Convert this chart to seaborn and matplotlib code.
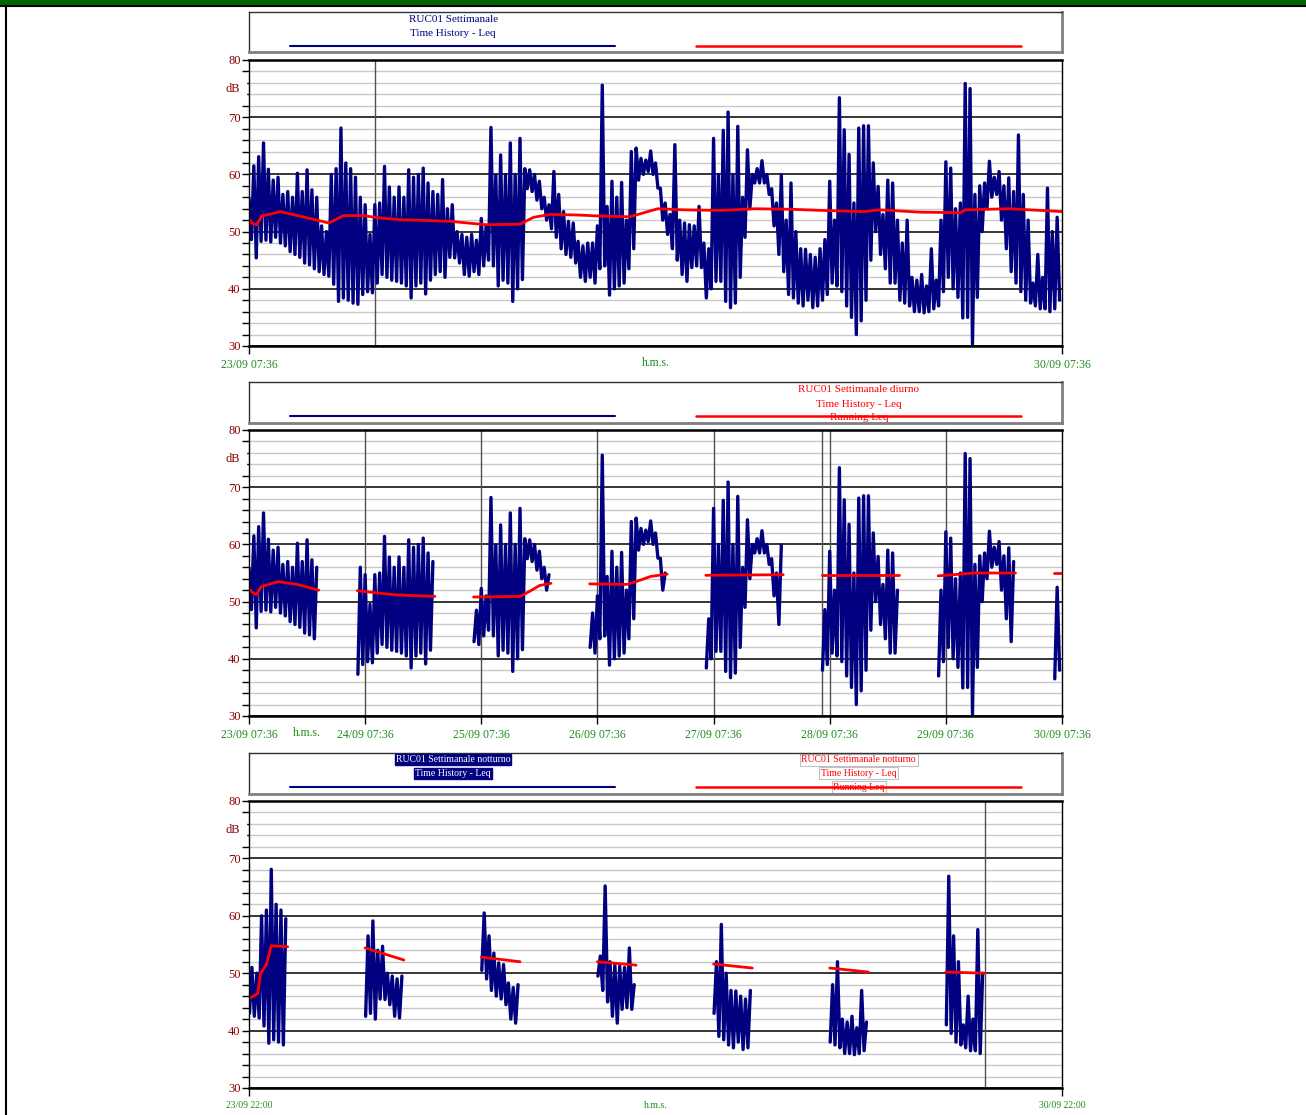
import numpy as np
import pandas as pd
import seaborn as sns
import matplotlib.pyplot as plt
from matplotlib.patches import Rectangle
from matplotlib.lines import Line2D
from matplotlib.ticker import MultipleLocator

# Leq: massimo e minimo per ogni ora (ore dalle 23/09 07:36)
leq_max = [55.9, 61.5, 63.1, 65.5, 60.9, 59.0, 59.5, 56.5, 57.0, 56.0,
           60.2, 57.0, 60.8, 57.3, 56.0, 51.0, 50.0, 60.0, 61.0, 68.1,
           62.0, 61.0, 59.5, 56.0, 54.7, 49.5, 54.7, 55.0, 61.4, 57.8,
           56.0, 57.8, 56.0, 60.8, 59.5, 60.0, 61.1, 58.5, 57.0, 56.5,
           59.1, 54.0, 54.7, 50.0, 49.5, 49.0, 49.5, 48.5, 52.3, 51.0,
           68.2, 59.9, 63.4, 60.0, 65.5, 60.0, 66.3, 61.0, 60.8, 60.0,
           58.8, 56.0, 54.7, 60.5, 56.5, 53.5, 51.8, 51.5, 48.3, 47.5,
           48.0, 48.0, 51.0, 75.6, 54.4, 58.8, 56.0, 58.6, 52.0, 64.0,
           64.6, 62.8, 62.5, 64.1, 62.0, 57.6, 55.0, 53.0, 65.2, 52.0,
           51.5, 51.2, 51.0, 54.4, 48.0, 47.0, 66.3, 60.0, 67.7, 70.9,
           60.0, 68.4, 56.0, 64.3, 60.0, 61.0, 62.4, 60.0, 57.5, 55.0,
           59.9, 52.0, 58.5, 50.0, 47.0, 46.9, 46.0, 45.5, 47.0, 48.6,
           58.8, 52.0, 73.4, 67.8, 63.5, 55.0, 68.1, 68.5, 68.5, 62.0,
           57.9, 53.0, 59.0, 58.5, 52.0, 48.0, 52.0, 42.0, 41.5, 42.5,
           40.5, 47.0, 41.5, 52.0, 62.2, 61.1, 54.0, 55.0, 75.9, 75.0,
           56.5, 58.0, 58.5, 62.3, 59.5, 60.5, 58.0, 59.4, 57.0, 66.9,
           56.5, 52.0, 41.0, 46.0, 42.0, 57.6, 50.0, 52.5]
leq_min = [48.6, 45.4, 48.3, 48.5, 48.2, 49.0, 48.0, 47.5, 46.5, 46.0,
           45.5, 44.5, 44.2, 43.5, 43.0, 42.5, 42.2, 40.8, 37.8, 38.4,
           38.0, 37.5, 37.3, 39.0, 39.5, 39.3, 41.0, 42.5, 42.0, 41.5,
           41.3, 41.0, 40.5, 38.4, 40.5, 41.0, 39.1, 41.5, 42.5, 43.0,
           42.0, 45.5, 45.4, 44.5, 42.5, 42.2, 43.0, 42.5, 44.0, 45.0,
           44.0, 40.5, 41.5, 41.0, 37.8, 40.0, 41.6, 57.5, 57.0, 55.5,
           54.0, 52.0, 50.5, 49.0, 47.0, 46.0, 45.5, 44.5, 42.0, 41.3,
           42.0, 41.0, 43.5, 44.0, 38.9, 40.0, 40.5, 41.0, 43.5, 47.0,
           59.0, 60.0, 60.5, 60.0, 57.6, 52.0, 49.5, 47.0, 45.0, 42.5,
           41.3, 43.7, 44.0, 43.7, 38.4, 40.0, 41.3, 41.3, 37.8, 36.7,
           37.5, 42.0, 49.0, 54.0, 58.5, 58.5, 58.5, 56.5, 51.0, 46.0,
           43.0, 39.0, 38.4, 37.5, 37.0, 38.0, 36.7, 37.0, 38.0, 39.0,
           41.0, 40.5, 39.5, 37.0, 35.0, 32.0, 34.4, 38.0, 45.0, 50.0,
           46.0, 43.5, 41.0, 41.0, 38.0, 37.5, 37.0, 36.0, 36.0, 35.8,
           36.0, 36.5, 37.0, 39.5, 42.0, 40.0, 38.5, 34.9, 35.0, 30.3,
           38.5, 50.0, 54.0, 56.0, 56.5, 52.0, 47.0, 43.0, 41.0, 39.5,
           38.0, 37.5, 37.0, 36.5, 36.5, 36.0, 36.5, 38.0]

# Running Leq settimanale
run_t = [0, 0.5, 1.6, 2.6, 6.5, 16.5, 19.5, 23.5, 27, 31, 41.5, 49, 56, 58.8, 62.2,
         68, 73, 78.7, 84.5, 90, 97.7, 104.6, 112, 118.4, 127, 130.4, 138.7, 147, 148, 157, 168]
run_leq = [52.4, 51.5, 51.2, 52.7, 53.5, 51.5, 52.8, 52.8, 52.4, 52.1, 51.8, 51.2, 51.3, 52.5, 53.0,
           52.9, 52.7, 52.6, 54.0, 53.8, 53.7, 54.0, 53.9, 53.7, 53.5, 53.8, 53.4, 53.3, 53.8, 54.0, 53.5]

# Running Leq diurno (per giorno)
day_seg = [0]*7 + [1]*3 + [2]*5 + [3]*5 + [4]*2 + [5]*2 + [6]*3 + [7]*2
day_t = [0, 0.4, 1.5, 2.5, 6, 10, 14.4, 22.4, 30, 38.4, 46.4, 56, 58, 60, 62.4,
         70.4, 78, 80, 83, 86.4, 94.4, 110.4, 118.4, 134.4, 142.4, 150, 158.4, 166.4, 168]
day_leq = [52.4, 51.8, 51.2, 52.6, 53.5, 53.0, 52.0, 51.9, 51.2, 50.9, 50.8, 50.9, 51.8, 52.8, 53.2,
           53.1, 53.0, 53.5, 54.4, 54.8, 54.6, 54.7, 54.6, 54.6, 54.5, 55.0, 55.0, 55.0, 55.0]

# Running Leq notturno (ore dalle 23/09 22:00)
night_seg = [0]*6 + [1]*2 + [2]*2 + [3]*2 + [4]*2 + [5]*2 + [6]*2
night_t = [0, 1.8, 2.4, 3.6, 4.6, 8, 24, 32, 48, 56, 72, 80, 96, 104, 120, 128, 144, 152]
night_leq = [45.5, 46.5, 50.0, 51.5, 54.8, 54.6, 54.4, 52.3, 52.8, 52.0, 52.0, 51.4,
             51.6, 50.9, 50.9, 50.2, 50.2, 50.0]

day_labels = ['23/09 07:36', '24/09 07:36', '25/09 07:36', '26/09 07:36',
              '27/09 07:36', '28/09 07:36', '29/09 07:36', '30/09 07:36']

NAVY = '#000080'
RED = '#ff0000'
GREEN = '#1e8c1e'
DRED = '#8b0000'

sns.set_style('white')
plt.rcParams['font.family'] = ['Liberation Serif', 'DejaVu Serif']

# serie completa: massimo e minimo alternati ogni mezz'ora
ore = np.arange(len(leq_max))
df = pd.DataFrame({'t': np.column_stack([ore, ore + 0.5]).ravel(),
                   'leq': np.column_stack([leq_max, leq_min]).ravel()})
clock = (df['t'] + 7.6) % 24
df['diurno'] = (clock >= 6) & (clock < 22)
df['seg_all'] = 0
df['seg_d'] = np.floor((df['t'] + 1.6) / 24).astype(int)
df['tn'] = df['t'] - 14.4
df['seg_n'] = np.floor(df['tn'] / 24).astype(int)
df_d = df[df['diurno']]
df_n = df[~df['diurno'] & (df['tn'] >= 0)]

W, H = 1306, 1115
fig = plt.figure(figsize=(W / 100, H / 100), dpi=100)


def fr(x0, y0, x1, y1):
    return [x0 / W, 1 - y1 / H, (x1 - x0) / W, (y1 - y0) / H]


ax1 = fig.add_axes(fr(249, 60, 1062, 346))
ax2 = fig.add_axes(fr(249, 430, 1062, 716))
ax3 = fig.add_axes(fr(249, 801, 1062, 1088))


def style(ax, ticks, labels, hms_x, small=False):
    ax.set_xlim(0, 168)
    ax.set_ylim(30, 80)
    ax.set_yticks(range(30, 81, 10))
    ax.set_yticklabels([str(v) for v in range(30, 81, 10)], color=DRED, fontsize=9)
    ax.yaxis.set_minor_locator(MultipleLocator(2))
    ax.grid(False)
    ax.yaxis.grid(True, which='minor', color='#c8c8c8', lw=1)
    ax.yaxis.grid(True, which='major', color='black', lw=1.1)
    ax.set_axisbelow(True)
    for s in ax.spines.values():
        s.set_color('black')
        s.set_linewidth(1)
    ax.spines['top'].set_linewidth(1.8)
    ax.spines['bottom'].set_linewidth(1.8)
    ax.tick_params(axis='y', which='both', direction='out', length=5, width=1,
                   color='black', left=True, pad=1)
    ax.set_xticks(ticks)
    ax.set_xticklabels(labels, color=GREEN, fontsize=7 if small else 8.5)
    ax.tick_params(axis='x', direction='out', length=6, width=1, color='black',
                   bottom=True, pad=3)
    ax.set_xlabel('')
    ax.set_ylabel('')
    ax.annotate('h.m.s.', xy=(hms_x, 0), xycoords=('data', 'axes fraction'),
                xytext=(0, -17), textcoords='offset pixels', ha='center', va='center',
                color=GREEN, fontsize=7 if small else 8.5)
    ax.annotate('dB', xy=(0, 75), xycoords=('axes fraction', 'data'),
                xytext=(-9, 0), textcoords='offset pixels', ha='right', va='center',
                color=DRED, fontsize=9, backgroundcolor='white')


LW = 2.4

# pannello 1: settimanale
sns.lineplot(data=df, x='t', y='leq', units='seg_all', estimator=None, sort=True,
             color=NAVY, lw=LW, ax=ax1)
sns.lineplot(x=run_t, y=run_leq, color=RED, lw=2, ax=ax1)
ax1.axvline(26.0, color='#505050', lw=1, zorder=1.5)
style(ax1, [0, 168], [day_labels[0], day_labels[-1]], 84)

# pannello 2: diurno
sns.lineplot(data=df_d, x='t', y='leq', units='seg_d', estimator=None, sort=True,
             color=NAVY, lw=LW, ax=ax2)
sns.lineplot(x=day_t, y=day_leq, units=day_seg, estimator=None, color=RED, lw=2, ax=ax2)
for k in range(1, 7):
    ax2.axvline(24 * k, color='#505050', lw=1, zorder=1.5)
ax2.axvline(118.4, color='#505050', lw=1, zorder=1.5)
style(ax2, [24 * k for k in range(8)], day_labels, 12)

# pannello 3: notturno
sns.lineplot(data=df_n, x='tn', y='leq', units='seg_n', estimator=None, sort=True,
             color=NAVY, lw=LW, ax=ax3)
sns.lineplot(x=night_t, y=night_leq, units=night_seg, estimator=None, color=RED, lw=2, ax=ax3)
ax3.axvline(152, color='#505050', lw=1, zorder=1.5)
style(ax3, [0, 168], ['23/09 22:00', '30/09 22:00'], 84, small=True)

# riquadri legenda
boxes = [(12, 52), (382, 423), (753, 794)]
leg_axes = []
for (y0, y1) in boxes:
    lax = fig.add_axes(fr(249, y0, 1062, y1))
    lax.set_xlim(0, 1)
    lax.set_ylim(0, 1)
    lax.set_xticks([])
    lax.set_yticks([])
    for side in ['left', 'top']:
        lax.spines[side].set_color('#303030')
        lax.spines[side].set_linewidth(1)
    for side in ['right', 'bottom']:
        lax.spines[side].set_color('#808080')
        lax.spines[side].set_linewidth(2)
    yl = 0.15 if y0 == 12 else 0.17
    lax.add_line(Line2D([0.05, 0.45], [yl, yl], color=NAVY, lw=1.5))
    lax.add_line(Line2D([0.55, 0.95], [yl, yl], color=RED, lw=1.8))
    leg_axes.append(lax)

fs = 8
leg_axes[0].text(0.251, 0.80, 'RUC01 Settimanale', color=NAVY, ha='center', va='center', fontsize=fs)
leg_axes[0].text(0.251, 0.475, 'Time History - Leq', color=NAVY, ha='center', va='center', fontsize=fs)

for yy, s in zip([0.805, 0.463, 0.146], ['RUC01 Settimanale diurno', 'Time History - Leq', 'Running Leq']):
    leg_axes[1].text(0.75, yy, s, color=RED, ha='center', va='center', fontsize=fs)

for yy, s in zip([0.83, 0.51], ['RUC01 Settimanale notturno', 'Time History - Leq']):
    leg_axes[2].text(0.251, yy, s, color='white', ha='center', va='center', fontsize=7,
                     bbox=dict(boxstyle='square,pad=0.1', fc=NAVY, ec=NAVY))
for yy, s in zip([0.83, 0.51, 0.17], ['RUC01 Settimanale notturno', 'Time History - Leq', 'Running Leq']):
    leg_axes[2].text(0.75, yy, s, color=RED, ha='center', va='center', fontsize=7, zorder=1,
                     bbox=dict(boxstyle='square,pad=0.15', fc='white', ec='#c0c0c0', lw=0.8))
leg_axes[2].lines[1].set_zorder(3)

# cornice pagina
fig.add_artist(Rectangle((0, 1 - 5 / H), 1, 5 / H, transform=fig.transFigure, color='#006400'))
fig.add_artist(Line2D([0, 1], [1 - 6 / H, 1 - 6 / H], transform=fig.transFigure, color='black', lw=1.5))
fig.add_artist(Line2D([6 / W, 6 / W], [0, 1 - 6 / H], transform=fig.transFigure, color='black', lw=1.5))

fig.savefig('out.png', dpi=100)
